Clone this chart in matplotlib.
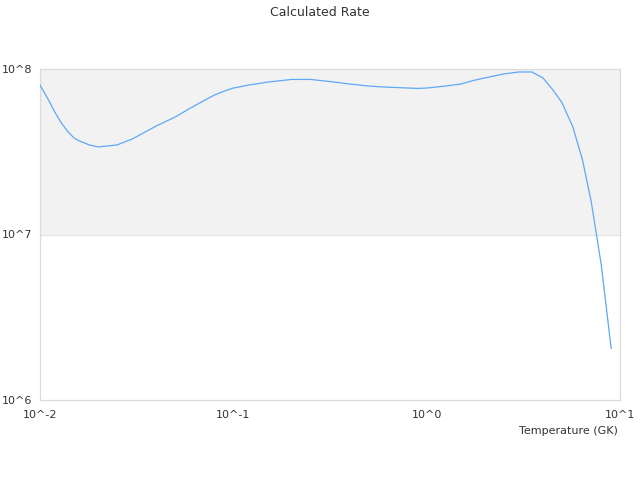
import numpy as np
import matplotlib
matplotlib.use("Agg")
import matplotlib.pyplot as plt

# temperature grid (GK) and rate
temperature = [0.01, 0.011, 0.012, 0.013, 0.014, 0.015, 0.016, 0.018, 0.02, 0.025,
               0.03, 0.04, 0.05, 0.06, 0.07, 0.08, 0.09, 0.1, 0.11, 0.12,
               0.13, 0.14, 0.15, 0.16, 0.18, 0.2, 0.25, 0.3, 0.35, 0.4,
               0.45, 0.5, 0.6, 0.7, 0.8, 0.9, 1.0, 1.25, 1.5, 1.75,
               2.0, 2.5, 3.0, 3.5, 4.0, 4.5, 5.0, 5.7, 6.4, 7.1, 8.0, 9.0]
log_rate = [7.903, 7.819, 7.734, 7.668, 7.619, 7.583, 7.565, 7.541, 7.529, 7.541,
            7.577, 7.656, 7.710, 7.764, 7.807, 7.843, 7.867, 7.885, 7.894, 7.903,
            7.909, 7.915, 7.921, 7.924, 7.931, 7.937, 7.937, 7.927, 7.918, 7.909,
            7.903, 7.897, 7.891, 7.888, 7.885, 7.883, 7.885, 7.897, 7.909, 7.931,
            7.946, 7.970, 7.982, 7.982, 7.946, 7.873, 7.799, 7.651, 7.450, 7.198, 6.816, 6.312]
rate = [10 ** v for v in log_rate]

x_ticks = [1e-2, 1e-1, 1e0, 1e1]
x_labels = ["10^-2", "10^-1", "10^0", "10^1"]
y_ticks = [1e6, 1e7, 1e8]
y_labels = ["10^6", "10^7", "10^8"]

txt = "#333333"
grid_c = "#dadada"

fig = plt.figure(figsize=(6.4, 4.8), dpi=100)
ax = fig.add_axes([40 / 640, 80 / 480, 580 / 640, 331 / 480])

ax.set_xscale("log")
ax.set_yscale("log")
ax.set_xlim(1e-2, 1e1)
ax.set_ylim(1e6, 1e8)

# shaded decade band
ax.axhspan(1e7, 1e8, color="#f2f2f2", zorder=0, lw=0)
ax.axhline(1e7, color="#e3e3e3", lw=0.8, zorder=1)

ax.plot(temperature, rate, color="#5ea8f7", lw=0.9, zorder=3)

ax.set_xticks(x_ticks)
ax.set_xticklabels(x_labels)
ax.set_yticks(y_ticks)
ax.set_yticklabels(y_labels, ha="left")
ax.minorticks_off()
ax.tick_params(axis="both", length=0, labelsize=8, labelcolor=txt)
ax.tick_params(axis="x", pad=7)
ax.tick_params(axis="y", pad=27.5)

for s in ax.spines.values():
    s.set_color(grid_c)
    s.set_linewidth(0.9)

fig.text(320 / 640, 1 - 12 / 480, "Calculated Rate", ha="center", va="center",
         fontsize=9, color=txt)
fig.text(618 / 640, 1 - 431 / 480, "Temperature (GK)", ha="right", va="center",
         fontsize=8, color=txt)

fig.savefig("out.png", dpi=100)
